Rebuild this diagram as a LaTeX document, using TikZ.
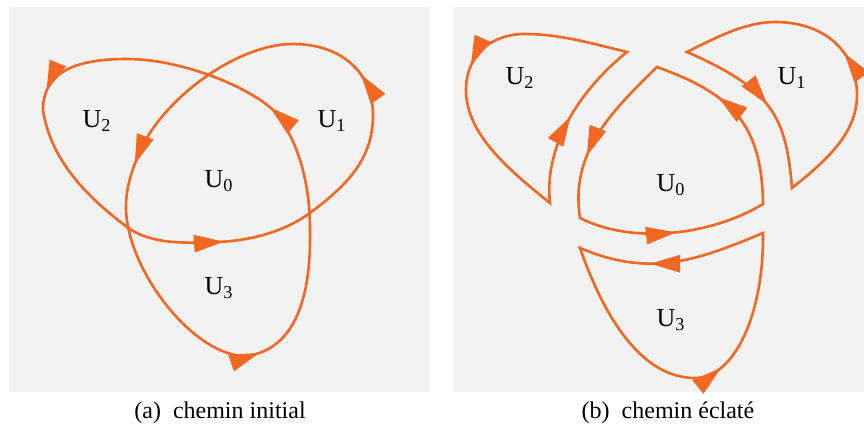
\documentclass[tikz,border=0pt]{standalone}
\usepackage{fontspec}
\setmainfont{Liberation Serif}
\usetikzlibrary{arrows.meta}
\usetikzlibrary{decorations.markings}
\definecolor{orangeU}{RGB}{242,103,34}
\definecolor{fondgris}{RGB}{242,242,242}
\tikzset{
    chemin/.style={color=orangeU, line width=1.3pt},
    /pgf/decoration/fleche/.style={
        mark=at position #1 with {\arrow{Triangle[length=15pt,width=8.5pt]}}
    },
    fleches/.style={
        postaction={decorate,decoration={markings,fleche/.list={#1}}}
    },
    region/.style={font=\fontsize{13}{15}\selectfont, anchor=base},
    legende/.style={font=\fontsize{12}{14}\selectfont, anchor=base},
}

\begin{document}
\begin{tikzpicture}[x=0.5pt,y=-0.5pt]
\useasboundingbox (0,0) rectangle (864,427);
\fill[fondgris] (9,7) rectangle (430,392);
\fill[fondgris] (453,7) rectangle (864,392);

% (a) le chemin d'un seul trait
\draw[chemin, fleches={0.008,0.18,0.334,0.502,0.663,0.843}]
  (247,356) .. controls (301,348) and (311,285) .. (310,230)
  .. controls (310,190) and (302,151) .. (280,118)
  .. controls (263.5,93) and (187,59) .. (127,59)
  .. controls (70,59) and (43,75) .. (43,110)
  .. controls (50.5,160) and (87,197) .. (127,227)
  .. controls (151,245) and (187,243) .. (217,242)
  .. controls (249,241) and (284,232) .. (310,213)
  .. controls (346,186) and (373,160) .. (373,115)
  .. controls (373,72) and (341,44) .. (293,44)
  .. controls (238,44) and (167.75,96) .. (143,145)
  .. controls (133.5,165) and (126,185) .. (126,207)
  .. controls (126,270) and (195,358) .. cycle;

\node[region] (a-U0) at (219,188) {U\textsubscript{0}};
\node[region] (a-U1) at (332,128) {U\textsubscript{1}};
\node[region] (a-U2) at (97,128) {U\textsubscript{2}};
\node[region] (a-U3) at (219,295) {U\textsubscript{3}};

% (b) les morceaux
\draw[chemin, fleches={0.205,0.495,0.878}]
  (657,67) .. controls (610,113) and (570,153) .. (580,218)
  .. controls (633,245) and (712,235) .. (763,204)
  .. controls (762,124) and (732,94) .. cycle;
\draw[chemin, fleches={0.186,0.668}]
  (687,52) .. controls (774,90) and (786,118) .. (792,188)
  .. controls (823,163) and (857,135) .. (857,95)
  .. controls (857,51) and (824,22) .. (775,22)
  .. controls (745,22) and (714,38.5) .. cycle;
\draw[chemin, fleches={0.175,0.671}]
  (550,203) .. controls (544,149) and (576,93) .. (627,52)
  .. controls (594,44) and (560,34) .. (525,34)
  .. controls (490,34) and (466,56) .. (466,90)
  .. controls (466,135) and (511,171.5) .. cycle;
\draw[chemin, fleches={0.215,0.735}]
  (763,233) .. controls (694,262) and (649,277) .. (580,248)
  .. controls (603,314) and (640,378) .. (695,378)
  .. controls (735,378) and (764,313) .. cycle;

\node[region] (b-U0) at (671,192) {U\textsubscript{0}};
\node[region] (b-U1) at (792,85) {U\textsubscript{1}};
\node[region] (b-U2) at (520,85) {U\textsubscript{2}};
\node[region] (b-U3) at (671,327) {U\textsubscript{3}};

\node[legende] (legende-a) at (220,419) {(a)\enskip chemin initial};
\node[legende] (legende-b) at (668,419) {(b)\enskip chemin éclaté};
\end{tikzpicture}
\end{document}
